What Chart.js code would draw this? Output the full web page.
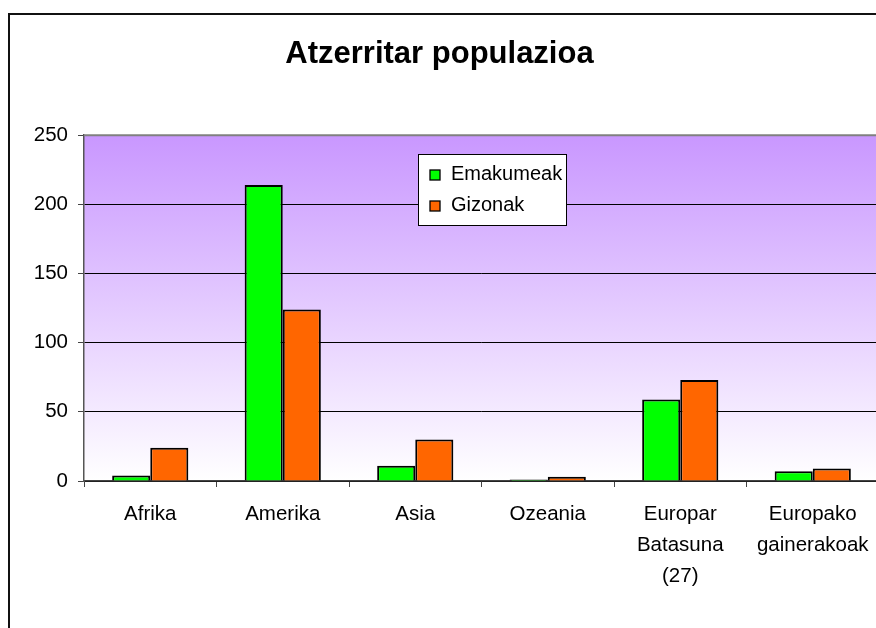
<!DOCTYPE html>
<html>
<head>
<meta charset="utf-8">
<script src="https://cdn.jsdelivr.net/npm/chart.js@4.4.1/dist/chart.umd.min.js"></script>
<style>
  html, body { margin: 0; padding: 0; background: #fff; overflow: hidden; }
  #wrap { position: relative; width: 884px; height: 628px; }
  #frame { position: absolute; left: 8px; top: 13px; width: 900px; height: 700px;
           border-left: 2px solid #111; border-top: 2px solid #111; }
  #populazioa { position: absolute; left: 0; top: 0; }
</style>
</head>
<body>
<div id="wrap">
  <div id="frame"></div>
  <canvas id="populazioa" width="884" height="628"></canvas>
</div>
<script>

const categories = ['Afrika', 'Amerika', 'Asia', 'Ozeania', ['Europar', 'Batasuna', '(27)'], ['Europako', 'gainerakoak']];
const emakumeak = [4, 214, 11, 1, 59, 7];
const gizonak = [24, 124, 30, 3, 73, 9];
const series_labels = ['Emakumeak', 'Gizonak'];
const series_colors = ['#00FF00', '#FF6600'];
const y_max = 250;
const y_step = 50;

const FONT = "'Liberation Sans', Arial, sans-serif";

// purple-to-white fill behind the bars
const plotBackground = {
  id: 'plotBackground',
  beforeDraw(chart) {
    const { ctx, chartArea: a } = chart;
    const grad = ctx.createLinearGradient(0, a.top, 0, a.bottom);
    grad.addColorStop(0, '#C997FF');
    grad.addColorStop(1, '#FFFFFF');
    ctx.save();
    ctx.fillStyle = grad;
    ctx.fillRect(a.left, a.top, a.right - a.left, a.bottom - a.top);
    ctx.restore();
  },
  afterDraw(chart) {
    const { ctx, chartArea: a } = chart;
    ctx.save();
    ctx.strokeStyle = '#808080';
    ctx.lineWidth = 2;
    ctx.beginPath();
    ctx.moveTo(a.left, a.top);
    ctx.lineTo(a.right + 10, a.top);
    ctx.stroke();
    ctx.restore();
  }
};

// legend box sitting inside the plot
const boxLegend = {
  id: 'boxLegend',
  afterDraw(chart) {
    const ctx = chart.ctx;
    const x = 418, y = 154, w = 148, h = 71;
    ctx.save();
    ctx.fillStyle = '#fff';
    ctx.fillRect(x, y, w, h);
    ctx.strokeStyle = '#000';
    ctx.lineWidth = 1;
    ctx.strokeRect(x + 0.5, y + 0.5, w, h);
    ctx.font = '20px ' + FONT;
    ctx.textBaseline = 'middle';
    chart.data.datasets.forEach(function (ds, i) {
      const cy = y + 20 + i * 31;
      ctx.fillStyle = ds.backgroundColor;
      ctx.fillRect(x + 12, cy - 4, 10, 10);
      ctx.strokeStyle = '#000';
      ctx.lineWidth = 1.3;
      ctx.strokeRect(x + 12, cy - 4, 10, 10);
      ctx.fillStyle = '#000';
      ctx.fillText(ds.label, x + 33, cy);
    });
    ctx.restore();
  }
};

const bar_data = {
  labels: categories,
  datasets: [{
    label: series_labels[0],
    data: emakumeak,
    backgroundColor: series_colors[0],
    borderColor: '#000',
    borderWidth: 2
  }, {
    label: series_labels[1],
    data: gizonak,
    backgroundColor: series_colors[1],
    borderColor: '#000',
    borderWidth: 2
  }]
};

const bar_config = {
  type: 'bar',
  data: bar_data,
  options: {
    responsive: false,
    animation: false,
    layout: { padding: { left: 0, right: 5, top: 0, bottom: 0 } },
    datasets: {
      bar: { categoryPercentage: 0.575, barPercentage: 1.0 }
    },
    plugins: {
      legend: { display: false },
      tooltip: { enabled: false },
      title: {
        display: true,
        text: 'Atzerritar populazioa',
        color: '#000',
        font: { family: FONT, size: 31, weight: 'bold' },
        padding: { top: 36, bottom: 62 }
      }
    },
    scales: {
      x: {
        afterFit(scale) { scale.height = 147; },
        grid: { drawOnChartArea: false, drawTicks: true, tickLength: 6, color: '#444', offset: true },
        border: { display: true, color: '#444', width: 1.5 },
        ticks: {
          color: '#000',
          font: { family: FONT, size: 20.5, lineHeight: 1.5 },
          padding: 12,
          maxRotation: 0,
          autoSkip: false
        }
      },
      y: {
        min: 0,
        max: y_max,
        afterFit(scale) { scale.width = 84; },
        grid: {
          color: (c) => c.tick && c.tick.value === y_max ? '#808080' : '#000',
          tickColor: '#444',
          tickLength: 6,
          lineWidth: 1
        },
        border: { display: true, color: '#555', width: 1.5 },
        ticks: {
          stepSize: y_step,
          color: '#000',
          font: { family: FONT, size: 20.5 },
          padding: 10
        }
      }
    }
  },
  plugins: [plotBackground, boxLegend]
};

const barChart = new Chart(document.getElementById('populazioa'), bar_config);

</script>
</body>
</html>
